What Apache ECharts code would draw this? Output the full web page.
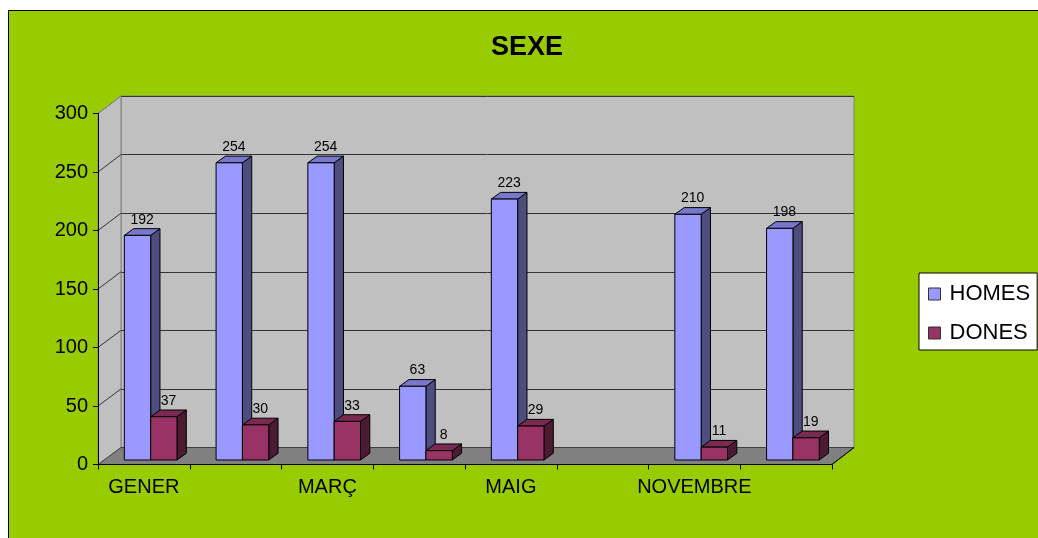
<!DOCTYPE html>
<html>
<head>
<meta charset="utf-8">
<script src="https://cdn.jsdelivr.net/npm/echarts@6/dist/echarts.min.js"></script>
<style>
  html, body { margin: 0; padding: 0; background: #fff; overflow: hidden; }
  #frame { position: absolute; left: 8px; top: 10px; width: 1100px; height: 600px; background: #99cc00; border: 1px solid #000; }
  #main { position: absolute; left: 0; top: 0; width: 1038px; height: 538px; }
</style>
</head>
<body>
<div id="frame"></div>
<div id="main"></div>
<script>
// dades
const categories = ['GENER', 'FEBRER', 'MARÇ', 'ABRIL', 'MAIG', 'OCTUBRE', 'NOVEMBRE', 'DESEMBRE']
const homes = [192, 254, 254, 63, 223, null, 210, 198]
const dones = [37, 30, 33, 8, 29, null, 11, 19]
const yMin = 0, yMax = 300, yStep = 50

const FONT = 'Liberation Sans, Arial, sans-serif'
const W = 1038
// front plane and back wall
const G1 = { left: 98, top: 113.5, right: 206, bottom: 73.5 }
const G2 = { left: 121, top: 96, right: 184, bottom: 90.5 }

const toItems = arr => arr.map((v, i) => (v == null ? null : [i, v])).filter(Boolean)

// bar drawn as front face + side + top, slightly behind the front plane
const bar3d = (slot, front, top, side) => (params, api) => {
  const cat = api.value(0), val = api.value(1)
  const base = api.coord([cat, 0])
  const peak = api.coord([cat, val])
  const band = api.size([1, 0])[0]
  const w = band * 0.287
  const x0 = base[0] + 6.8 + (slot - 1) * w
  const x1 = x0 + w
  const yb = base[1] - 4.5, yt = peak[1] - 4.5
  const dx = 9.3, dy = -6.7
  const line = { stroke: '#000', lineWidth: 1 }
  return {
    type: 'group',
    children: [
      { type: 'polygon', shape: { points: [[x1, yb], [x1 + dx, yb + dy], [x1 + dx, yt + dy], [x1, yt]] }, style: Object.assign({ fill: side }, line) },
      { type: 'polygon', shape: { points: [[x0, yt], [x0 + dx, yt + dy], [x1 + dx, yt + dy], [x1, yt]] }, style: Object.assign({ fill: top }, line) },
      { type: 'rect', shape: { x: x0, y: yt, width: w, height: yb - yt }, style: Object.assign({ fill: front }, line) },
      { type: 'text', x: (x0 + x1 + dx) / 2, y: yt + dy - 2,
        style: { text: String(val), fill: '#000', fontSize: 14, fontFamily: FONT, align: 'center', verticalAlign: 'bottom' } }
    ]
  }
}

const chart = echarts.init(document.getElementById('main'))

const option = {
  animation: false,
  backgroundColor: 'transparent',
  title: {
    text: 'SEXE',
    left: 527,
    top: 34,
    padding: 0,
    textAlign: 'center',
    textStyle: { fontFamily: FONT, fontSize: 27, fontWeight: 'bold', color: '#000' }
  },
  legend: {
    orient: 'vertical',
    left: 919,
    top: 273,
    padding: [10, 7, 6, 9],
    itemGap: 17,
    itemWidth: 12,
    itemHeight: 12,
    icon: 'rect',
    backgroundColor: '#fff',
    borderColor: '#000',
    borderWidth: 1,
    borderRadius: 0,
    textStyle: { fontFamily: FONT, fontSize: 22, color: '#000', padding: [0, 0, 0, 4] },
    data: [
      { name: 'HOMES', itemStyle: { color: '#9999ff', borderColor: '#333', borderWidth: 1 } },
      { name: 'DONES', itemStyle: { color: '#993366', borderColor: '#333', borderWidth: 1 } }
    ]
  },
  grid: [
    Object.assign({}, G1),
    Object.assign({ show: true, backgroundColor: '#c0c0c0', borderColor: '#808080', borderWidth: 1 }, G2)
  ],
  xAxis: [{
    type: 'category',
    gridIndex: 0,
    data: categories,
    boundaryGap: true,
    z: 5,
    axisLine: { lineStyle: { color: '#000', width: 1 } },
    axisTick: { show: true, interval: 0, length: 5, lineStyle: { color: '#000' } },
    axisLabel: { interval: 1, margin: 13, fontFamily: FONT, fontSize: 20, color: '#000' },
    splitLine: { show: false }
  }, {
    type: 'category',
    gridIndex: 1,
    data: categories,
    show: false
  }],
  yAxis: [{
    type: 'value',
    gridIndex: 0,
    min: yMin, max: yMax, interval: yStep,
    z: 5,
    axisLine: { show: true, lineStyle: { color: '#000', width: 1 } },
    axisTick: { show: true, length: 5, lineStyle: { color: '#000' } },
    axisLabel: { margin: 10, fontFamily: FONT, fontSize: 20, color: '#000' },
    splitLine: { show: false }
  }, {
    type: 'value',
    gridIndex: 1,
    min: yMin, max: yMax, interval: yStep,
    axisLine: { show: false },
    axisTick: { show: false },
    axisLabel: { show: false },
    splitLine: { show: true, lineStyle: { color: '#333', width: 1 } }
  }],
  series: [{
    name: 'HOMES',
    type: 'custom',
    xAxisIndex: 0, yAxisIndex: 0,
    z: 3,
    itemStyle: { color: '#9999ff' },
    encode: { x: 0, y: 1 },
    renderItem: bar3d(0, '#9999ff', '#7777cc', '#4d4d80'),
    data: toItems(homes)
  }, {
    name: 'DONES',
    type: 'custom',
    xAxisIndex: 0, yAxisIndex: 0,
    z: 3,
    itemStyle: { color: '#993366' },
    encode: { x: 0, y: 1 },
    renderItem: bar3d(1, '#993366', '#7a2952', '#4c1a33'),
    data: toItems(dones)
  }]
}

chart.setOption(option)

// left wall, floor and wall grid diagonals
const yF = v => chart.convertToPixel({ yAxisIndex: 0 }, v)
const yB = v => chart.convertToPixel({ yAxisIndex: 1 }, v)
const xF0 = G1.left, xF1 = W - G1.right
const xB0 = G2.left, xB1 = W - G2.right

const deco = [
  { type: 'polygon', z: 1, shape: { points: [[xF0, yF(yMin)], [xF0, yF(yMax)], [xB0, yB(yMax)], [xB0, yB(yMin)]] },
    style: { fill: '#c0c0c0', stroke: '#808080', lineWidth: 1 } },
  { type: 'polygon', z: 1, shape: { points: [[xF0, yF(yMin)], [xF1, yF(yMin)], [xB1, yB(yMin)], [xB0, yB(yMin)]] },
    style: { fill: '#808080', stroke: '#404040', lineWidth: 1 } },
  { type: 'line', z: 2, shape: { x1: xF1, y1: yF(yMin), x2: xB1, y2: yB(yMin) }, style: { stroke: '#000', lineWidth: 1 } }
]
for (let v = yMin + yStep; v <= yMax; v += yStep) {
  deco.push({ type: 'line', z: 1, shape: { x1: xF0, y1: yF(v), x2: xB0, y2: yB(v) },
    style: { stroke: v === yMax ? '#808080' : '#333', lineWidth: 1 } })
}
chart.setOption({ graphic: deco })
</script>
</body>
</html>
